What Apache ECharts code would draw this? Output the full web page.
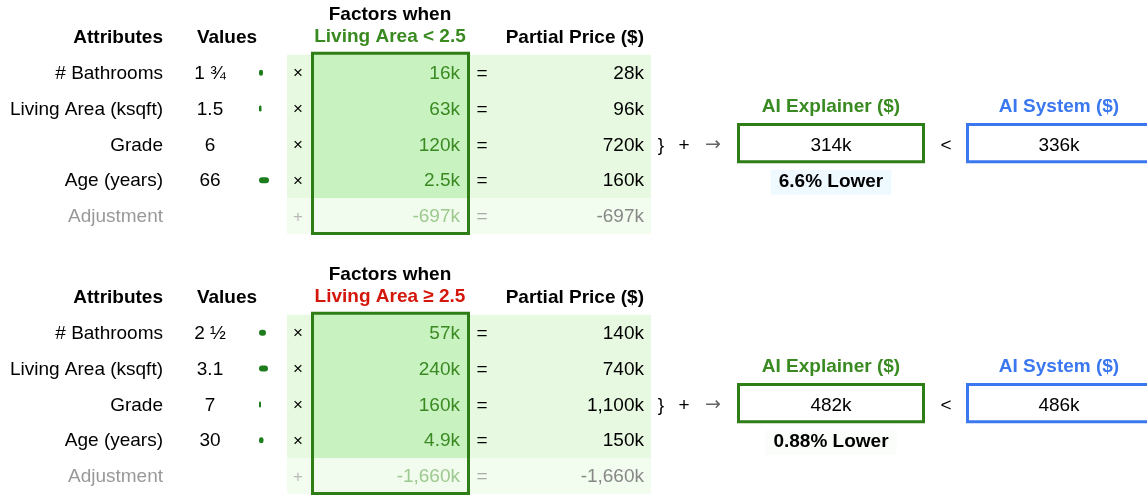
<!DOCTYPE html>
<html>
<head>
<meta charset="utf-8">
<title>AI Explainer vs AI System</title>
<style>
    body { margin: 0; background: #fff; }
    #main { width: 1147px; height: 495px; }
</style>
</head>
<body>
<div id="main"></div>
<script src="https://cdn.jsdelivr.net/npm/echarts@6/dist/echarts.min.js"></script>
<script>
// ---- data ----
var attributes = ['# Bathrooms', 'Living Area (ksqft)', 'Grade', 'Age (years)', 'Adjustment'];

var valuesTop = ['1 ¾', '1.5', '6', '66', ''];
var valueBarsTop = [4, 2.5, 0, 10];
var factorsTop = ['16k', '63k', '120k', '2.5k', '-697k'];
var partialTop = ['28k', '96k', '720k', '160k', '-697k'];
var conditionTop = 'Living Area < 2.5';
var explainerTop = '314k';
var systemTop = '336k';
var diffTop = '6.6% Lower';

var valuesBottom = ['2 ½', '3.1', '7', '30', ''];
var valueBarsBottom = [7, 9, 2, 4.5];
var factorsBottom = ['57k', '240k', '160k', '4.9k', '-1,660k'];
var partialBottom = ['140k', '740k', '1,100k', '150k', '-1,660k'];
var conditionBottom = 'Living Area ≥ 2.5';
var explainerBottom = '482k';
var systemBottom = '486k';
var diffBottom = '0.88% Lower';

// ---- layout ----
var W = 1147;
var rowCats = ['head', 'r1', 'r2', 'r3', 'r4', 'adj'];
var panelTops = [19, 279];
var panelH = 215;
var FONT = '"Liberation Sans", Arial, sans-serif';
var GREEN = '#3a8a22', DKGREEN = '#2e7d16', BLUE = '#3b78f0', RED = '#d4170b';

var panels = [
    {values: valuesTop, bars: valueBarsTop, factors: factorsTop, partial: partialTop,
        condition: conditionTop, condColor: GREEN, explainer: explainerTop, system: systemTop,
        diff: diffTop, diffBg: '#eefaff'},
    {values: valuesBottom, bars: valueBarsBottom, factors: factorsBottom, partial: partialBottom,
        condition: conditionBottom, condColor: RED, explainer: explainerBottom, system: systemBottom,
        diff: diffBottom, diffBg: '#fafdfa'}
];

function buildPanel(p) {
    var cells = [], rects = [];

    function cell(x, row, text, align, color, bold, extra) {
        var c = {x: x, row: row, text: text, align: align, color: color, bold: !!bold,
            size: 19, dy: 1, family: FONT};
        if (extra) {
            for (var k in extra) c[k] = extra[k];
        }
        cells.push(c);
    }

    function rect(x0, x1, r0, r1, padT, padB, fill, stroke, lw) {
        rects.push({x0: x0, x1: x1, r0: r0, r1: r1, padT: padT, padB: padB,
            fill: fill || null, stroke: stroke || null, lw: lw || 0});
    }

    // header row
    cell(163, 0, 'Attributes', 'right', '#000', true);
    cell(227, 0, 'Values', 'center', '#000', true);
    cell(390, 0, 'Factors when', 'center', '#000', true, {dy: -22});
    cell(390, 0, p.condition, 'center', p.condColor, true, {dy: 0});
    cell(644, 0, 'Partial Price ($)', 'right', '#000', true);

    for (var i = 0; i < attributes.length; i++) {
        var row = i + 1;
        var adj = i === attributes.length - 1;
        cell(163, row, attributes[i], 'right', adj ? '#999' : '#000');
        cell(210, row, p.values[i], 'center', '#000');
        cell(298, row, adj ? '+' : '×', 'center', adj ? '#bbb' : '#000', false, {size: 17});
        cell(460, row, p.factors[i], 'right', adj ? '#9dca8e' : GREEN);
        cell(482, row, '=', 'center', adj ? '#aaa' : '#000');
        cell(644, row, p.partial[i], 'right', adj ? '#888' : '#000');
    }

    cell(661, 3, '}', 'center', '#000');
    cell(684, 3, '+', 'center', '#000');
    cell(713, 3, '→', 'center', '#666', false, {size: 19, family: '"DejaVu Sans", sans-serif'});
    cell(831, 2, 'AI Explainer ($)', 'center', GREEN, true, {dy: -2});
    cell(831, 3, p.explainer, 'center', '#000');
    cell(946, 3, '<', 'center', '#000');
    cell(1059, 2, 'AI System ($)', 'center', BLUE, true, {dy: -2});
    cell(1059, 3, p.system, 'center', '#000');
    cell(831, 4, p.diff, 'center', '#000', true, {dy: 2, bg: p.diffBg});

    // backgrounds and boxes
    rect(287, 651, 1, 4, 0, 0, '#e7f9e1');
    rect(287, 651, 5, 5, 0, 0, '#f2fcef');
    rect(312, 468, 1, 4, 1, 0, '#c9f2c1');
    rect(312, 468, 5, 5, 0, 0, '#f1fbee');
    rect(312.5, 468.5, 1, 5, 1.5, -0.5, null, DKGREEN, 3);
    rect(738.5, 923.5, 3, 3, 2, -0.5, null, DKGREEN, 3);
    rect(967.5, 1150, 3, 3, 2, -0.5, null, BLUE, 3);

    return {cells: cells, rects: rects};
}

var built = panels.map(buildPanel);

var grids = [], xAxes = [], yAxes = [], series = [];

panels.forEach(function (p, pi) {
    var b = built[pi];
    var gMain = grids.length;
    grids.push({left: 0, right: 0, top: panelTops[pi], height: panelH});
    xAxes.push({gridIndex: gMain, type: 'value', min: 0, max: W, show: false});
    yAxes.push({gridIndex: gMain, type: 'category', data: rowCats, inverse: true, show: false});

    var gBar = grids.length;
    grids.push({left: 259, width: 12, top: panelTops[pi], height: panelH});
    xAxes.push({gridIndex: gBar, type: 'value', min: 0, max: 12, show: false});
    yAxes.push({gridIndex: gBar, type: 'category', data: rowCats, inverse: true, show: false});

    // shaded cells and outlined boxes
    series.push({
        type: 'custom',
        xAxisIndex: gMain,
        yAxisIndex: gMain,
        clip: false,
        silent: true,
        z: 1,
        data: b.rects.map(function (r) { return [r.x0, r.r0, r.x1, r.r1]; }),
        renderItem: function (params, api) {
            var r = b.rects[params.dataIndex];
            var p0 = api.coord([api.value(0), api.value(1)]);
            var p1 = api.coord([api.value(2), api.value(3)]);
            var h = api.size([0, 1])[1];
            var y0 = p0[1] - h / 2 - r.padT;
            var y1 = p1[1] + h / 2 + r.padB;
            return {
                type: 'rect',
                shape: {x: p0[0], y: y0, width: p1[0] - p0[0], height: y1 - y0},
                style: {fill: r.fill || 'none', stroke: r.stroke || 'none', lineWidth: r.lw}
            };
        }
    });

    // little value bars
    series.push({
        type: 'bar',
        xAxisIndex: gBar,
        yAxisIndex: gBar,
        silent: true,
        z: 2,
        barWidth: 6,
        itemStyle: {color: '#1d7d1d', borderRadius: 3},
        data: [null].concat(p.bars).concat([null])
    });

    // text cells
    series.push({
        type: 'custom',
        xAxisIndex: gMain,
        yAxisIndex: gMain,
        clip: false,
        silent: true,
        z: 3,
        data: b.cells.map(function (c) { return [c.x, c.row]; }),
        renderItem: function (params, api) {
            var c = b.cells[params.dataIndex];
            var pt = api.coord([api.value(0), api.value(1)]);
            var style = {
                text: c.text,
                x: pt[0],
                y: pt[1] + c.dy,
                align: c.align,
                verticalAlign: 'middle',
                textAlign: c.align,
                textVerticalAlign: 'middle',
                font: (c.bold ? 'bold ' : '') + c.size + 'px ' + c.family,
                fill: c.color
            };
            if (c.bg) {
                style.backgroundColor = c.bg;
                style.textBackgroundColor = c.bg;
                style.padding = [3, 8];
                style.textPadding = [3, 8];
            }
            return {type: 'text', style: style};
        }
    });
});

var chart = echarts.init(document.getElementById('main'));
chart.setOption({
    backgroundColor: '#fff',
    animation: false,
    grid: grids,
    xAxis: xAxes,
    yAxis: yAxes,
    series: series
});
</script>
</body>
</html>
